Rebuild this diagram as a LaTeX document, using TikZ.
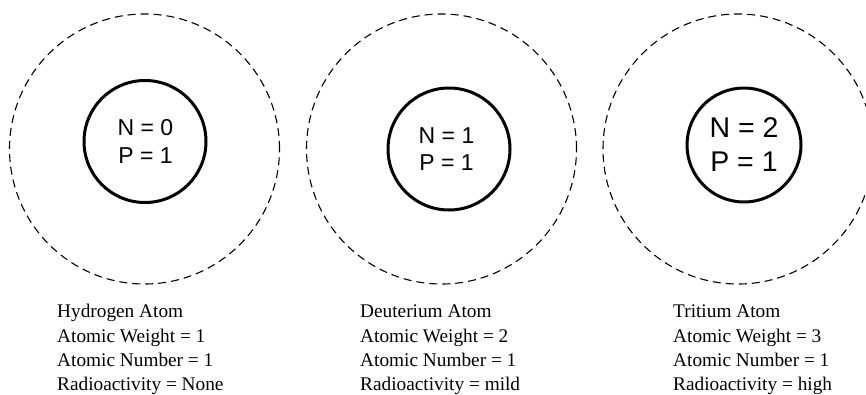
\documentclass[tikz,border=0pt]{standalone}
\usepackage{fontspec}
\setmainfont{Liberation Serif}
\newfontfamily\arialf{Liberation Sans}
\begin{document}
\begin{tikzpicture}[x=1pt,y=-1pt,
  shell/.style={circle,draw,dash pattern=on 8pt off 5pt,line width=1.1pt,minimum size=270pt,inner sep=0pt},
  nucleus/.style={circle,draw,line width=3pt,inner sep=0pt},
  nlabel/.style={anchor=base,inner sep=0pt,font=\arialf\fontsize{23}{28}\selectfont},
  biglabel/.style={anchor=base,inner sep=0pt,font=\arialf\fontsize{28.5}{34}\selectfont},
  info/.style={anchor=base west,inner sep=0pt,font=\fontsize{19.3}{24}\selectfont}]
\useasboundingbox (0,0) rectangle (866,394);
\clip (0,0) rectangle (866,394);
% outer shells
\node[shell] (o1) at (144.5,149) {};
\node[shell] (o2) at (441.5,149) {};
\node[shell] (o3) at (738,149) {};
% nuclei
\node[nucleus,minimum size=122pt] (n1) at (145,141.5) {};
\node[nucleus,minimum size=122pt] (n2) at (449,149) {};
\node[nucleus,minimum size=114pt] (n3) at (744,145) {};
% nucleus labels
\node[nlabel] (n1a) at (145.5,135) {N = 0};
\node[nlabel] (n1b) at (145.5,163) {P = 1};
\node[nlabel] (n2a) at (446.5,143) {N = 1};
\node[nlabel] (n2b) at (446.5,170) {P = 1};
\node[biglabel] (n3a) at (744,137) {N = 2};
\node[biglabel] (n3b) at (744,171) {P = 1};
% info texts
\node[info] (h1) at (57,317) {Hydrogen Atom};
\node[info] (h2) at (57,342) {Atomic Weight = 1};
\node[info] (h3) at (57,366) {Atomic Number = 1};
\node[info] (h4) at (57,390) {Radioactivity = None};
\node[info] (d1) at (360,317) {Deuterium Atom};
\node[info] (d2) at (360,342) {Atomic Weight = 2};
\node[info] (d3) at (360,366) {Atomic Number = 1};
\node[info] (d4) at (360,390) {Radioactivity = mild};
\node[info] (t1) at (673,317) {Tritium Atom};
\node[info] (t2) at (673,342) {Atomic Weight = 3};
\node[info] (t3) at (673,366) {Atomic Number = 1};
\node[info] (t4) at (673,390) {Radioactivity = high};
\end{tikzpicture}
\end{document}
